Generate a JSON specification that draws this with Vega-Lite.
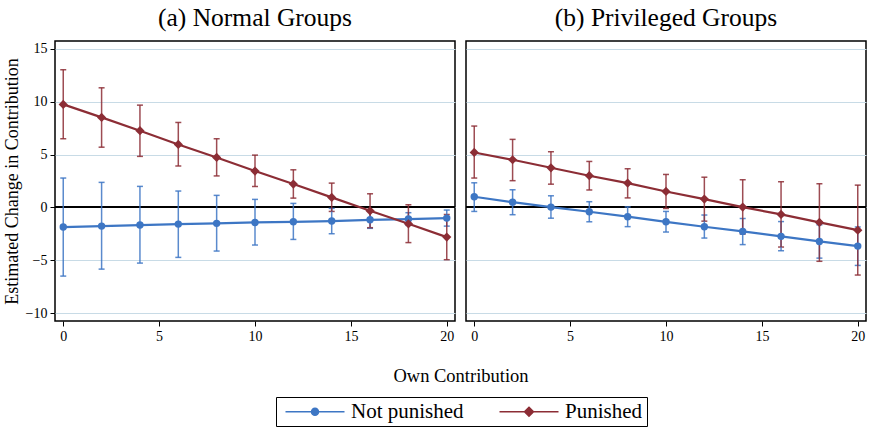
{
  "$schema": "https://vega.github.io/schema/vega-lite/v6.json",
  "padding": {"left": 3, "right": 0, "top": 5, "bottom": 2},
  "background": "white",
  "bounds": "flush",
  "data": {"values": [
    {"panel": "(a) Normal Groups", "group": "Not punished", "x": 0, "y": -1.86, "lo": -6.5, "hi": 2.78},
    {"panel": "(a) Normal Groups", "group": "Not punished", "x": 2, "y": -1.77, "lo": -5.84, "hi": 2.37},
    {"panel": "(a) Normal Groups", "group": "Not punished", "x": 4, "y": -1.67, "lo": -5.27, "hi": 1.99},
    {"panel": "(a) Normal Groups", "group": "Not punished", "x": 6, "y": -1.58, "lo": -4.73, "hi": 1.55},
    {"panel": "(a) Normal Groups", "group": "Not punished", "x": 8, "y": -1.51, "lo": -4.13, "hi": 1.14},
    {"panel": "(a) Normal Groups", "group": "Not punished", "x": 10, "y": -1.42, "lo": -3.56, "hi": 0.76},
    {"panel": "(a) Normal Groups", "group": "Not punished", "x": 12, "y": -1.36, "lo": -3.03, "hi": 0.38},
    {"panel": "(a) Normal Groups", "group": "Not punished", "x": 14, "y": -1.29, "lo": -2.49, "hi": -0.09},
    {"panel": "(a) Normal Groups", "group": "Not punished", "x": 16, "y": -1.17, "lo": -1.98, "hi": -0.36},
    {"panel": "(a) Normal Groups", "group": "Not punished", "x": 18, "y": -1.1, "lo": -1.7, "hi": -0.5},
    {"panel": "(a) Normal Groups", "group": "Not punished", "x": 20, "y": -1.01, "lo": -1.77, "hi": -0.25},
    {"panel": "(a) Normal Groups", "group": "Punished", "x": 0, "y": 9.75, "lo": 6.5, "hi": 13.03},
    {"panel": "(a) Normal Groups", "group": "Punished", "x": 2, "y": 8.52, "lo": 5.7, "hi": 11.32},
    {"panel": "(a) Normal Groups", "group": "Punished", "x": 4, "y": 7.26, "lo": 4.83, "hi": 9.68},
    {"panel": "(a) Normal Groups", "group": "Punished", "x": 6, "y": 5.96, "lo": 3.92, "hi": 8.04},
    {"panel": "(a) Normal Groups", "group": "Punished", "x": 8, "y": 4.73, "lo": 2.98, "hi": 6.5},
    {"panel": "(a) Normal Groups", "group": "Punished", "x": 10, "y": 3.44, "lo": 1.98, "hi": 4.95},
    {"panel": "(a) Normal Groups", "group": "Punished", "x": 12, "y": 2.21, "lo": 0.88, "hi": 3.56},
    {"panel": "(a) Normal Groups", "group": "Punished", "x": 14, "y": 0.95, "lo": -0.38, "hi": 2.3},
    {"panel": "(a) Normal Groups", "group": "Punished", "x": 16, "y": -0.32, "lo": -1.92, "hi": 1.29},
    {"panel": "(a) Normal Groups", "group": "Punished", "x": 18, "y": -1.55, "lo": -3.33, "hi": 0.25},
    {"panel": "(a) Normal Groups", "group": "Punished", "x": 20, "y": -2.81, "lo": -4.95, "hi": -0.67},
    {"panel": "(b) Privileged Groups", "group": "Not punished", "x": 0, "y": 1.01, "lo": -0.38, "hi": 2.33},
    {"panel": "(b) Privileged Groups", "group": "Not punished", "x": 2, "y": 0.5, "lo": -0.69, "hi": 1.67},
    {"panel": "(b) Privileged Groups", "group": "Not punished", "x": 4, "y": 0.03, "lo": -1.02, "hi": 1.1},
    {"panel": "(b) Privileged Groups", "group": "Not punished", "x": 6, "y": -0.41, "lo": -1.36, "hi": 0.54},
    {"panel": "(b) Privileged Groups", "group": "Not punished", "x": 8, "y": -0.88, "lo": -1.82, "hi": 0.05},
    {"panel": "(b) Privileged Groups", "group": "Not punished", "x": 10, "y": -1.36, "lo": -2.33, "hi": -0.38},
    {"panel": "(b) Privileged Groups", "group": "Not punished", "x": 12, "y": -1.83, "lo": -2.9, "hi": -0.72},
    {"panel": "(b) Privileged Groups", "group": "Not punished", "x": 14, "y": -2.27, "lo": -3.52, "hi": -1.05},
    {"panel": "(b) Privileged Groups", "group": "Not punished", "x": 16, "y": -2.74, "lo": -4.1, "hi": -1.34},
    {"panel": "(b) Privileged Groups", "group": "Not punished", "x": 18, "y": -3.22, "lo": -4.8, "hi": -1.65},
    {"panel": "(b) Privileged Groups", "group": "Not punished", "x": 20, "y": -3.66, "lo": -5.49, "hi": -1.85},
    {"panel": "(b) Privileged Groups", "group": "Punished", "x": 0, "y": 5.2, "lo": 2.78, "hi": 7.7},
    {"panel": "(b) Privileged Groups", "group": "Punished", "x": 2, "y": 4.51, "lo": 2.53, "hi": 6.44},
    {"panel": "(b) Privileged Groups", "group": "Punished", "x": 4, "y": 3.75, "lo": 2.2, "hi": 5.27},
    {"panel": "(b) Privileged Groups", "group": "Punished", "x": 6, "y": 3.0, "lo": 1.65, "hi": 4.35},
    {"panel": "(b) Privileged Groups", "group": "Punished", "x": 8, "y": 2.3, "lo": 0.9, "hi": 3.66},
    {"panel": "(b) Privileged Groups", "group": "Punished", "x": 10, "y": 1.51, "lo": -0.1, "hi": 3.12},
    {"panel": "(b) Privileged Groups", "group": "Punished", "x": 12, "y": 0.79, "lo": -1.3, "hi": 2.86},
    {"panel": "(b) Privileged Groups", "group": "Punished", "x": 14, "y": 0.03, "lo": -2.52, "hi": 2.62},
    {"panel": "(b) Privileged Groups", "group": "Punished", "x": 16, "y": -0.66, "lo": -3.75, "hi": 2.43},
    {"panel": "(b) Privileged Groups", "group": "Punished", "x": 18, "y": -1.42, "lo": -5.1, "hi": 2.24},
    {"panel": "(b) Privileged Groups", "group": "Punished", "x": 20, "y": -2.15, "lo": -6.4, "hi": 2.11}
  ]},
  "facet": {
    "column": {
      "field": "panel", "type": "nominal", "title": "Own Contribution",
      "header": {"labelFontSize": 25.5, "labelFont": "Liberation Serif", "labelColor": "black", "labelPadding": 10, "labelOrient": "top",
        "titleOrient": "bottom", "titleFont": "Liberation Serif", "titleFontSize": 18.5, "titleFontWeight": "normal", "titleColor": "black", "titlePadding": 14}
    }
  },
  "spacing": 11,
  "spec": {
    "width": 400,
    "height": 280,
    "encoding": {
      "x": {"field": "x", "type": "quantitative", "title": null,
        "scale": {"domain": [-0.43, 20.43], "nice": false, "zero": false},
        "axis": {"values": [0, 5, 10, 15, 20], "grid": false, "domain": false, "tickColor": "black", "tickSize": 5,
          "labelFont": "Liberation Serif", "labelFontSize": 14, "labelColor": "black", "labelPadding": 3}},
      "y": {"field": "y", "type": "quantitative", "title": "Estimated Change in Contribution",
        "scale": {"domain": [-10.75, 15.75], "nice": false, "zero": false},
        "axis": {"values": [-10, -5, 0, 5, 10, 15], "grid": true, "gridColor": "#c8dbe6", "gridWidth": 1.2, "domain": false,
          "tickColor": "black", "tickSize": 5, "labelFont": "Liberation Serif", "labelFontSize": 14, "labelColor": "black", "labelPadding": 3,
          "titleFont": "Liberation Serif", "titleFontSize": 18, "titleFontWeight": "normal", "titleColor": "black", "titlePadding": 4}},
      "color": {"field": "group", "type": "nominal",
        "scale": {"domain": ["Not punished", "Punished"], "range": ["#3d76c4", "#8c2d35"]},
        "legend": {
          "title": null, "orient": "none", "legendX": 221, "legendY": 356, "direction": "horizontal",
          "strokeColor": "black", "padding": 4, "columnPadding": 30,
          "labelFont": "Liberation Serif", "labelFontSize": 21, "labelColor": "black", "labelOffset": 50,
          "symbolSize": 100, "symbolOpacity": 1, "symbolStrokeWidth": 1.5,
          "encode": {"symbols": {"update": {"stroke": {"scale": "color", "field": "value"}, "fill": {"scale": "color", "field": "value"}, "strokeWidth": {"value": 1.5}, "opacity": {"value": 1}}}}
        }
      }
    },
    "layer": [
      {"mark": {"type": "rule", "color": "black", "strokeWidth": 1.3}, "encoding": {"y": {"datum": 0}, "x": {"value": 0}, "x2": {"value": 400}, "color": {"value": "black"}}},
      {"mark": {"type": "errorbar", "ticks": {"size": 6}, "thickness": 1.5, "opacity": 0.85},
        "encoding": {"y": {"field": "lo", "type": "quantitative"}, "y2": {"field": "hi"}}},
      {"mark": {"type": "line", "strokeWidth": 2.2}},
      {"transform": [{"filter": "datum.group == 'Not punished'"}],
        "mark": {"type": "point", "shape": "circle", "filled": true, "size": 55, "opacity": 1}},
      {"transform": [{"filter": "datum.group == 'Punished'"}],
        "mark": {"type": "point", "shape": "diamond", "filled": true, "size": 85, "opacity": 1}},
      {"transform": [{"filter": "datum.x < 0"}],
        "mark": {"type": "point", "filled": true},
        "encoding": {"shape": {"field": "group", "type": "nominal",
          "scale": {"domain": ["Not punished", "Punished"], "range": [
            "M-1,0H10.8M4.2,0A0.7,0.7 0 1,0 5.6,0A0.7,0.7 0 1,0 4.2,0Z",
            "M-1,0H10.8M4.9,-0.9L5.8,0L4.9,0.9L4.0,0Z"]},
          "legend": {"title": null}}}}
    ]
  },
  "config": {
    "view": {"stroke": "black", "strokeWidth": 1.5},
    "font": "Liberation Serif"
  }
}
